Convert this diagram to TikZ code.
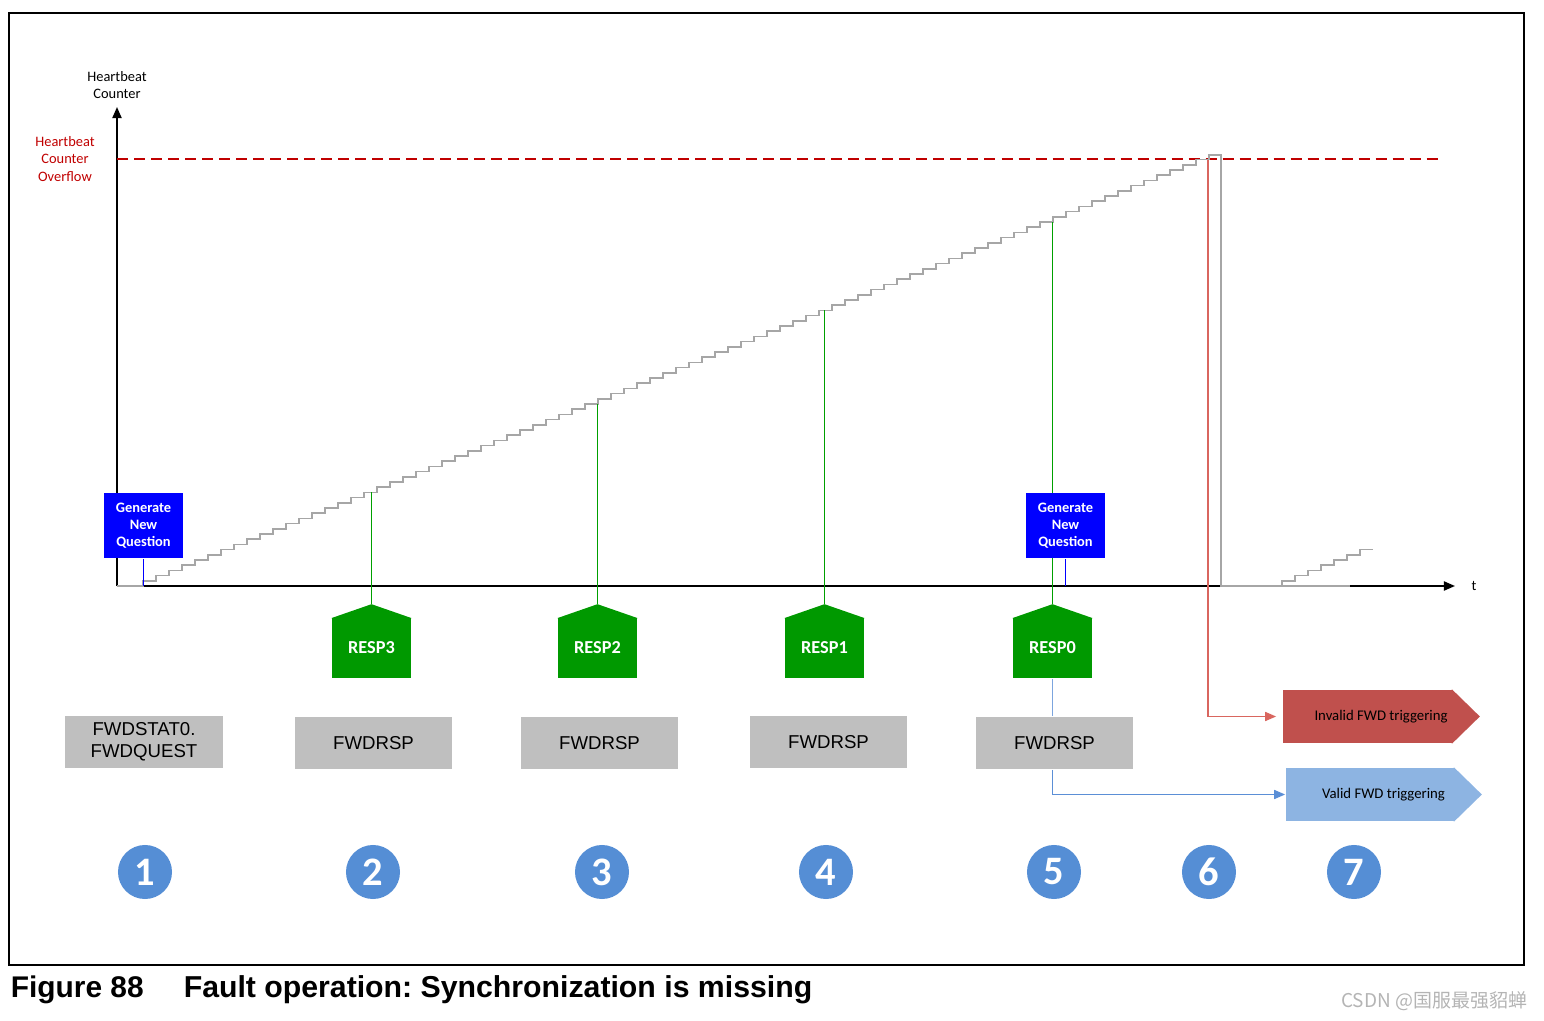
\documentclass[tikz,border=0pt]{standalone}
\usepackage{fontspec}
\setmainfont{Carlito}
\newfontfamily\arialfont{Liberation Sans}
\newfontfamily\cjkfont{Noto Sans CJK SC}
\usetikzlibrary{arrows.meta, calc}
\frenchspacing
\definecolor{genblue}{HTML}{0000FF}
\definecolor{respgreen}{HTML}{009900}
\definecolor{linegreen}{HTML}{00A000}
\definecolor{boxgray}{HTML}{BFBFBF}
\definecolor{numblue}{HTML}{558ED5}
\definecolor{badred}{HTML}{C0504D}
\definecolor{okblue}{HTML}{8DB4E2}
\definecolor{ovred}{HTML}{C00000}
\definecolor{stairgray}{HTML}{A6A6A6}
\definecolor{redline}{HTML}{D9665F}
\definecolor{blueline}{HTML}{5B8FD6}
\definecolor{wmgray}{HTML}{B4B4B4}

\begin{document}
\begin{tikzpicture}[
  x=0.01cm, y=-0.01cm,
  >={Triangle[length=1.1mm, width=0.9mm]},
  line width=0.45pt,
  axis/.style={black, line width=0.55pt, ->},
  stair/.style={stairgray, line width=0.45pt},
  genq/.style={fill=genblue, text=white, align=center, inner sep=0pt,
    minimum width=0.79cm, minimum height=0.65cm,
    font=\bfseries\fontsize{4.1}{4.85}\selectfont},
  resp/.style={fill=respgreen, text=white, inner sep=0pt,
    minimum width=0.79cm, minimum height=0.6cm,
    font=\bfseries\fontsize{5.2}{6}\selectfont},
  fwdbox/.style={fill=boxgray, align=center, inner sep=0pt,
    minimum width=1.57cm, minimum height=0.52cm,
    font=\arialfont\fontsize{5.3}{6.3}\selectfont},
  trig/.style={inner sep=0pt, minimum width=1.69cm, minimum height=0.53cm,
    font=\fontsize{4.2}{5}\selectfont},
  stepnum/.style={circle, fill=numblue, text=white, inner sep=0pt,
    minimum size=0.54cm, font=\bfseries\fontsize{11.5}{12}\selectfont},
  axlabel/.style={align=center, inner sep=0pt, font=\fontsize{4.1}{4.85}\selectfont}
]

\useasboundingbox (0,0) rectangle (1544,1021);

% ── Frame ──
\draw[black, line width=0.4pt] (9,13) rectangle (1524,965);

% ── Axes ──
\coordinate (O) at (117,586);
\coordinate (ytop) at (117,107);
\coordinate (xend) at (1455,586);
\draw[axis] (O) -- (ytop);
\draw[axis] (O) -- (xend);
\node[axlabel] (ylab) at (117,85) {Heartbeat\\Counter};
\node[axlabel] (tlab) at (1474,586) {t};

% ── Overflow level ──
\coordinate (ovf) at (117,159);
\coordinate (ovfend) at (1443,159);
\draw[ovred, dash pattern=on 0.11cm off 0.06cm] (ovf) -- (ovfend);
\node[axlabel, text=ovred] (ovlab) at (65,159) {Heartbeat\\Counter\\Overflow};

% ── Counter staircase ──
\draw[stair] (O) -- (143,586)
  foreach \i in {1,...,82} { |- ++(13,-5.2) }
  -- ++(0,-4.6) -- ++(12,0) -- (1221,586) -- (1350,586);
\draw[stair] (1282,586) foreach \i in {1,...,7} { |- ++(13,-5.2) };

% ── Responses ──
\foreach \n/\x/\y in {3/371.5/492.4, 2/597.5/404, 1/824.5/310.4, 0/1052.5/222} {
  \coordinate (hit\n) at (\x,\y);
  \node[resp] (resp\n) at (\x,648) {RESP\n};
  \fill[respgreen] ($(resp\n.north west)+(0,1)$) -- ($(resp\n.north)+(0,-13)$)
    coordinate (roof\n) -- ($(resp\n.north east)+(0,1)$) -- cycle;
  \draw[linegreen, line width=0.5pt] (hit\n) -- (roof\n);
}

% ── Generate New Question ──
\node[genq] (gen1) at (143.5,525.5) {Generate\\New\\Question};
\node[genq] (gen2) at (1065.5,525.5) {Generate\\New\\Question};
\draw[genblue] (gen1.south) -- (gen1.south |- O);
\draw[genblue] (gen2.south) -- (gen2.south |- O);

% ── Register accesses ──
\node[fwdbox] (box1) at (144,742) {FWDSTAT0.\\FWDQUEST};
\node[fwdbox] (box2) at (373.5,743) {FWDRSP};
\node[fwdbox] (box3) at (599.5,743) {FWDRSP};
\node[fwdbox] (box4) at (828.5,742) {FWDRSP};
\node[fwdbox] (box5) at (1054.5,743) {FWDRSP};

% ── Triggering results ──
\node[trig, fill=badred] (invalid) at (1367.5,716.5) {\hspace*{0.27cm}Invalid FWD triggering};
\fill[badred] ($(invalid.north east)+(-1,0)$) -- ($(invalid.east)+(27,0)$)
  -- ($(invalid.south east)+(-1,0)$) -- cycle;
\node[trig, fill=okblue, minimum width=1.68cm] (valid) at (1370,794.5) {\hspace*{0.27cm}Valid FWD triggering};
\fill[okblue] ($(valid.north east)+(-1,0)$) -- ($(valid.east)+(27,0)$)
  -- ($(valid.south east)+(-1,0)$) -- cycle;

\coordinate (ovfhit) at (1208,160);
\draw[redline, ->, shorten >=0.6mm] (ovfhit) |- (invalid.west);
\draw[blueline!80] (resp0.south) -- (resp0.south |- box5.north);
\draw[blueline, ->] (resp0.south |- box5.south) |- (valid.west);

% ── Step numbers ──
\foreach \n/\x in {1/145, 2/373, 3/602, 4/826, 5/1054, 6/1209, 7/1354}
  \node[stepnum] (num\n) at (\x,872) {\n};

% ── Caption ──
\node[anchor=base west, inner sep=0pt, font=\arialfont\bfseries\fontsize{8.5}{10}\selectfont]
  (fignum) at (10,997) {Figure 88};
\node[anchor=base west, inner sep=0pt, font=\arialfont\bfseries\fontsize{8.6}{10}\selectfont]
  (figtitle) at (183,997) {Fault operation: Synchronization is missing};
\node[anchor=east, inner sep=0pt, text=wmgray, font=\cjkfont\fontsize{5.4}{6}\selectfont]
  (mark) at (1528,1001) {CSDN @国服最强貂蝉};

\end{tikzpicture}
\end{document}
